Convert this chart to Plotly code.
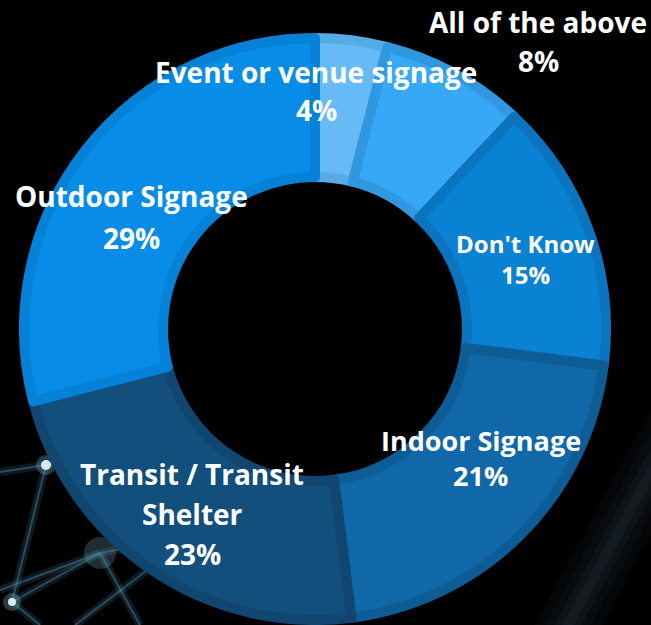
import plotly.graph_objects as go

# ---- data ----
categories = [
    "Event or venue signage",
    "All of the above",
    "Don't Know",
    "Indoor Signage",
    "Transit / Transit Shelter",
    "Outdoor Signage",
]
shares = [4, 8, 15, 21, 23, 29]

# ---- style ----
W, H = 651, 625
fill_colors = ["#66bbf6", "#36a8f6", "#0a82d3", "#1068a8", "#124f7d", "#078de8"]
edge_colors = ["#56abe3", "#2f98e0", "#0a74bf", "#0e5c96", "#10466f", "#0681d8"]
FONT = "Open Sans, Segoe UI, Arial, sans-serif"

# ring geometry in pixels
cx, cy = 315, 329
r_mid_outer = 291
r_mid_inner = 152
edge_w = 10

# label layout: wrapped lines, centre (px), font size, line gap (px)
label_layout = {
    "Event or venue signage": (["Event or venue signage"], (316, 72), 28, 38),
    "All of the above": (["All of the above"], (538, 22), 28, 39),
    "Don't Know": (["Don't Know"], (525, 243), 24, 32),
    "Indoor Signage": (["Indoor Signage"], (481, 440), 27, 35),
    "Transit / Transit Shelter": (["Transit / Transit", "Shelter"], (192, 474), 28, 40),
    "Outdoor Signage": (["Outdoor Signage"], (131, 196), 28, 42),
}


def px(x, y):
    return x / W, 1 - y / H


fig = go.Figure()
fig.add_trace(
    go.Pie(
        labels=categories,
        values=shares,
        sort=False,
        direction="clockwise",
        rotation=0,
        hole=r_mid_inner / r_mid_outer,
        marker=dict(colors=fill_colors, line=dict(color=edge_colors, width=edge_w)),
        textinfo="none",
        hoverinfo="label+percent",
        showlegend=False,
        domain=dict(
            x=[(cx - r_mid_outer) / W, (cx + r_mid_outer) / W],
            y=[(H - cy - r_mid_outer) / H, (H - cy + r_mid_outer) / H],
        ),
    )
)

# labels: category lines followed by the percentage
total = sum(shares)
annotations = []
for name, val in zip(categories, shares):
    lines, (lx, ly), size, gap = label_layout[name]
    texts = lines + [f"{round(100 * val / total)}%"]
    for i, t in enumerate(texts):
        x, y = px(lx, ly + i * gap)
        annotations.append(
            dict(
                x=x, y=y, xref="paper", yref="paper",
                text=f"<b>{t}</b>", showarrow=False,
                xanchor="center", yanchor="middle",
                font=dict(family=FONT, size=size, color="white"),
            )
        )

# faint network backdrop in the lower corners
shapes = []
glow_lines = [
    ((0, 472), (46, 465)), ((46, 465), (12, 602)), ((46, 465), (150, 445)),
    ((0, 590), (100, 553)), ((12, 602), (100, 553)), ((100, 553), (230, 530)),
    ((75, 625), (150, 568)), ((12, 602), (40, 625)), ((100, 553), (140, 625)),
]
for (x0, y0), (x1, y1) in glow_lines:
    a, b = px(x0, y0)
    c, d = px(x1, y1)
    shapes.append(dict(type="line", xref="paper", yref="paper", x0=a, y0=b, x1=c, y1=d,
                       line=dict(color="rgba(60,120,150,0.22)", width=8), layer="below"))
    shapes.append(dict(type="line", xref="paper", yref="paper", x0=a, y0=b, x1=c, y1=d,
                       line=dict(color="rgba(110,170,200,0.35)", width=2), layer="below"))
for (nx, ny, rr, col) in [
    (46, 465, 10, "rgba(130,190,215,0.30)"), (46, 465, 5, "rgba(225,240,245,0.95)"),
    (12, 602, 9, "rgba(130,190,215,0.30)"), (12, 602, 4, "rgba(225,240,245,0.95)"),
    (100, 553, 16, "rgba(100,150,170,0.30)"),
]:
    a, b = px(nx - rr, ny - rr)
    c, d = px(nx + rr, ny + rr)
    shapes.append(dict(type="circle", xref="paper", yref="paper", x0=a, y0=b, x1=c, y1=d,
                       fillcolor=col, line=dict(width=0), layer="below"))
# soft streak at lower right, built from widening translucent strokes
for w, alpha in [(60, 0.05), (40, 0.06), (24, 0.07), (10, 0.08)]:
    a, b = px(690, 400)
    c, d = px(560, 640)
    shapes.append(dict(type="line", xref="paper", yref="paper", x0=a, y0=b, x1=c, y1=d,
                       line=dict(color=f"rgba(90,120,140,{alpha})", width=w), layer="below"))

fig.update_layout(
    width=W, height=H,
    margin=dict(l=0, r=0, t=0, b=0),
    paper_bgcolor="black",
    plot_bgcolor="black",
    annotations=annotations,
    shapes=shapes,
    showlegend=False,
)

fig.write_html("out.html")
